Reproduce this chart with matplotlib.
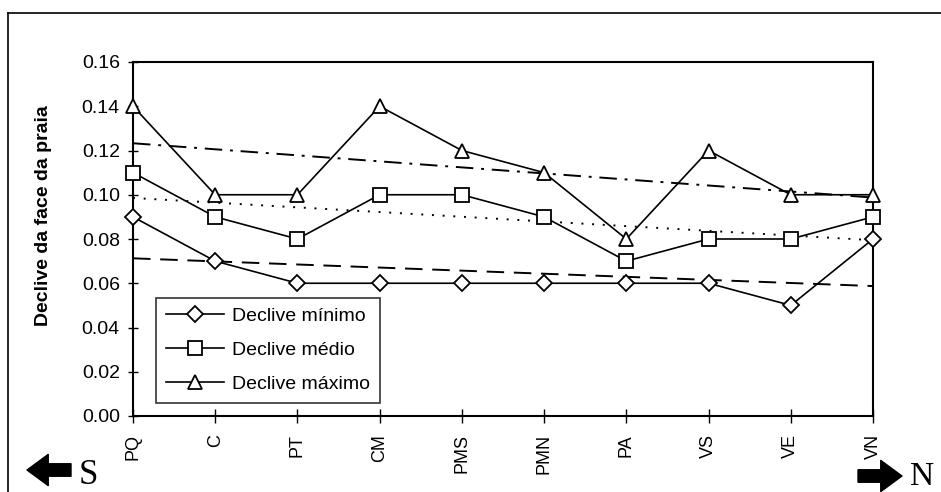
import numpy as np
import matplotlib
matplotlib.use('Agg')
import matplotlib.pyplot as plt
from matplotlib.lines import Line2D

# praias, de sul para norte
praias = ['PQ', 'C', 'PT', 'CM', 'PMS', 'PMN', 'PA', 'VS', 'VE', 'VN']
declive_min = [0.09, 0.07, 0.06, 0.06, 0.06, 0.06, 0.06, 0.06, 0.05, 0.08]
declive_med = [0.11, 0.09, 0.08, 0.10, 0.10, 0.09, 0.07, 0.08, 0.08, 0.09]
declive_max = [0.14, 0.10, 0.10, 0.14, 0.12, 0.11, 0.08, 0.12, 0.10, 0.10]
yticks = [0.00, 0.02, 0.04, 0.06, 0.08, 0.10, 0.12, 0.14, 0.16]

plt.rcParams['font.family'] = ['Liberation Sans', 'DejaVu Sans']

fig = plt.figure(figsize=(9.41, 4.92), dpi=100)
ax = fig.add_axes([133/941, 1 - 416/492, 740/941, 354/492])

x = np.arange(len(praias))
series = [(declive_min, 'D', 8, 'Declive mínimo', (0, (9, 5))),
          (declive_med, 's', 10, 'Declive médio', (0, (1, 4.5))),
          (declive_max, '^', 10, 'Declive máximo', (0, (9, 4, 1.5, 4)))]

for vals, mk, ms, lab, ls in series:
    ax.plot(x, vals, color='black', lw=1.2, marker=mk, ms=ms, mfc='white',
            mec='black', mew=1.3, label=lab, clip_on=False, zorder=3)
    # linha de tendencia
    a, b = np.polyfit(x, vals, 1)
    ax.plot(x, a * x + b, color='black', lw=1.4, ls=ls, zorder=2)

ax.set_xlim(0, len(praias) - 1)
ax.set_ylim(0, 0.16)
ax.set_yticks(yticks)
ax.set_yticklabels([f'{v:.2f}' for v in yticks], fontsize=14)
ax.set_xticks(x)
ax.set_xticklabels(praias, rotation=90, fontsize=13)
ax.tick_params(axis='y', direction='inout', length=7, width=1, pad=6)
ax.tick_params(axis='x', direction='inout', length=10, width=1, pad=8)
for s in ax.spines.values():
    s.set_linewidth(1.5)

ax.set_ylabel('Declive da face da praia', fontsize=14, fontweight='bold')
ax.yaxis.set_label_coords(-0.11, 0.565)

leg = ax.legend(loc='lower left', bbox_to_anchor=(23/740, 13/354), fontsize=14,
                frameon=True, fancybox=False, edgecolor='black',
                handlelength=3.0, handletextpad=0.4, labelspacing=0.85,
                borderpad=0.5, borderaxespad=0)
leg.get_frame().set_linewidth(1.2)

# moldura exterior
fig.add_artist(Line2D([8/941, 8/941], [0, 1 - 13/492], color='black', lw=1.2,
                      transform=fig.transFigure))
fig.add_artist(Line2D([8/941, 1], [1 - 13/492, 1 - 13/492], color='black', lw=1.2,
                      transform=fig.transFigure))

# setas S / N
arrow = dict(arrowstyle='simple,head_length=0.85,head_width=1.25,tail_width=0.5',
             mutation_scale=18, color='black', shrinkA=0, shrinkB=0)
ax.annotate('', xy=(27, 492 - 470), xytext=(71, 492 - 470),
            xycoords='figure pixels', textcoords='figure pixels', arrowprops=arrow)
ax.annotate('', xy=(902, 492 - 476), xytext=(858, 492 - 476),
            xycoords='figure pixels', textcoords='figure pixels', arrowprops=arrow)
fig.text(79/941, 1 - 484/492, 'S', fontsize=25, family='Liberation Serif',
         ha='left', va='baseline')
fig.text(910/941, 1 - 485/492, 'N', fontsize=24, family='Liberation Serif',
         ha='left', va='baseline')

fig.savefig('out.png', dpi=100)
